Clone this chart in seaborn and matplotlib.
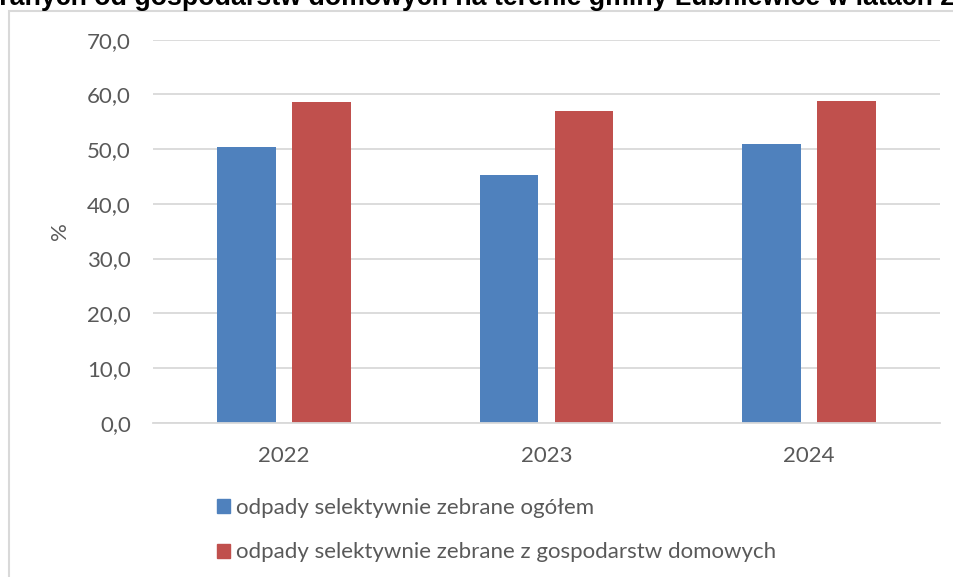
import matplotlib.pyplot as plt
import pandas as pd
import seaborn as sns
from matplotlib.patches import Rectangle

sns.set_theme(style='white')
plt.rcParams['font.family'] = ['Lato', 'DejaVu Sans']

# data
years = ['2022', '2023', '2024']
series_names = ['odpady selektywnie zebrane ogółem',
                'odpady selektywnie zebrane z gospodarstw domowych']
total = [50.4, 45.3, 50.9]
households = [58.6, 57.0, 58.8]
y_ticks = [0, 10, 20, 30, 40, 50, 60, 70]
title = ('Udział odpadów selektywnie zebranych od gospodarstw domowych '
         'na terenie gminy Lubniewice w latach 2022-2024')
title_hidden = 'Udział odpadów selektywnie zeb'

colors = ['#4F81BD', '#C0504D']
grid_color = '#D9D9D9'
text_color = '#595959'

df = pd.DataFrame({
    'rok': years * 2,
    'seria': [series_names[0]] * 3 + [series_names[1]] * 3,
    'wartosc': total + households,
})

W, H = 954, 577
fig = plt.figure(figsize=(W / 100, H / 100), dpi=100)

# chart frame (light grey border, cut by the screenshot)
fig.patches.append(Rectangle((9 / W, -0.1), 1.1, (H - 11) / H + 0.1, transform=fig.transFigure,
                             fill=False, edgecolor=grid_color, linewidth=1.5))

ax = fig.add_axes([153 / W, (H - 422.7) / H, (940 - 153) / W, 383 / H])
sns.barplot(data=df, x='rok', y='wartosc', hue='seria', palette=colors, order=years,
            hue_order=series_names, width=0.572, gap=0.217, saturation=1, ax=ax,
            linewidth=0, legend=False)

ax.set_ylim(0, 70)
ax.set_xlim(-0.5, 2.5)
ax.set_yticks(y_ticks)
ax.set_yticklabels(['{:.1f}'.format(t).replace('.', ',') for t in y_ticks])
ax.yaxis.grid(True, color=grid_color, linewidth=1.3)
ax.set_axisbelow(True)
for side in ['top', 'right', 'left']:
    ax.spines[side].set_visible(False)
ax.spines['bottom'].set_color(grid_color)
ax.spines['bottom'].set_linewidth(1.3)
ax.tick_params(axis='both', length=0, labelsize=16, labelcolor=text_color)
ax.tick_params(axis='y', pad=16)
ax.tick_params(axis='x', pad=17)
ax.set_xlabel('')
ax.set_ylabel('%', fontsize=16, color=text_color, labelpad=12)

# legend below the plot
handles = [Rectangle((0, 0), 1, 1, color=c) for c in colors]
fig.legend(handles, series_names, loc='upper left', bbox_to_anchor=(197 / W, (H - 478) / H),
           frameon=False, fontsize=16, labelcolor=text_color, handlelength=0.6,
           handleheight=0.6, handletextpad=0.25, labelspacing=1.1)

# title, cut off by the screenshot at the top and left
fig.canvas.draw()
renderer = fig.canvas.get_renderer()
probe = fig.text(0, 0, title_hidden, fontsize=19.3, fontweight='bold', family='Liberation Sans')
shift = probe.get_window_extent(renderer).width
probe.remove()
fig.text((-shift - 1) / W, (H - 5) / H, title, fontsize=19.3, fontweight='bold',
         family='Liberation Sans', color='black', va='baseline', ha='left')

plt.savefig('out.png', dpi=100)
